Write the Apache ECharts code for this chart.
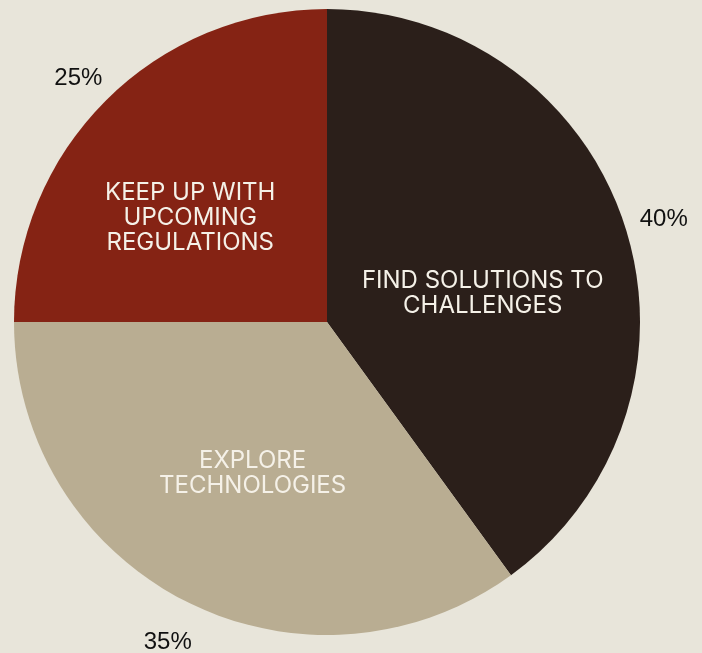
<!DOCTYPE html>
<html>
<head>
<meta charset="utf-8">
<script src="https://cdn.jsdelivr.net/npm/echarts@6/dist/echarts.min.js"></script>
<style>
  html, body { margin: 0; padding: 0; background: #e8e5da; }
  #chart { width: 702px; height: 653px; }
</style>
</head>
<body>
<div id="chart"></div>
<script>
// data
var categories = ['FIND SOLUTIONS TO\nCHALLENGES', 'EXPLORE\nTECHNOLOGIES', 'KEEP UP WITH\nUPCOMING\nREGULATIONS'];
var values = [40, 35, 25];

// styling
var colors = ['#2b1f1a', '#b9ad92', '#852314'];
var innerOffsets = [[4, 21], [-2, 9], [-24, 9]]; // nudge inside labels like the original

var chart = echarts.init(document.getElementById('chart'));

var option = {
  backgroundColor: '#e8e5da',
  animation: false,
  series: [
    {
      // main pie
      type: 'pie',
      center: [327, 322],
      radius: [0, 313],
      startAngle: 90,
      clockwise: true,
      silent: true,
      data: categories.map(function (c, i) {
        return {
          name: c,
          value: values[i],
          itemStyle: { color: colors[i] },
          label: { offset: innerOffsets[i] }
        };
      }),
      label: {
        show: true,
        position: 'inside',
        formatter: '{b}',
        color: '#f5f1e8',
        fontFamily: 'Inter',
        fontSize: 24,
        lineHeight: 25,
        align: 'center'
      },
      labelLine: { show: false }
    },
    {
      // transparent ring, only carries the percent labels
      type: 'pie',
      center: [327, 322],
      radius: [313, 387],
      startAngle: 90,
      clockwise: true,
      silent: true,
      data: categories.map(function (c, i) {
        return { name: c, value: values[i], itemStyle: { color: 'transparent' } };
      }),
      label: {
        show: true,
        position: 'inside',
        formatter: '{c}%',
        color: '#111111',
        fontFamily: 'Liberation Sans',
        fontSize: 24,
        offset: [1, 6]
      },
      labelLine: { show: false }
    }
  ]
};
chart.setOption(option);
</script>
</body>
</html>
